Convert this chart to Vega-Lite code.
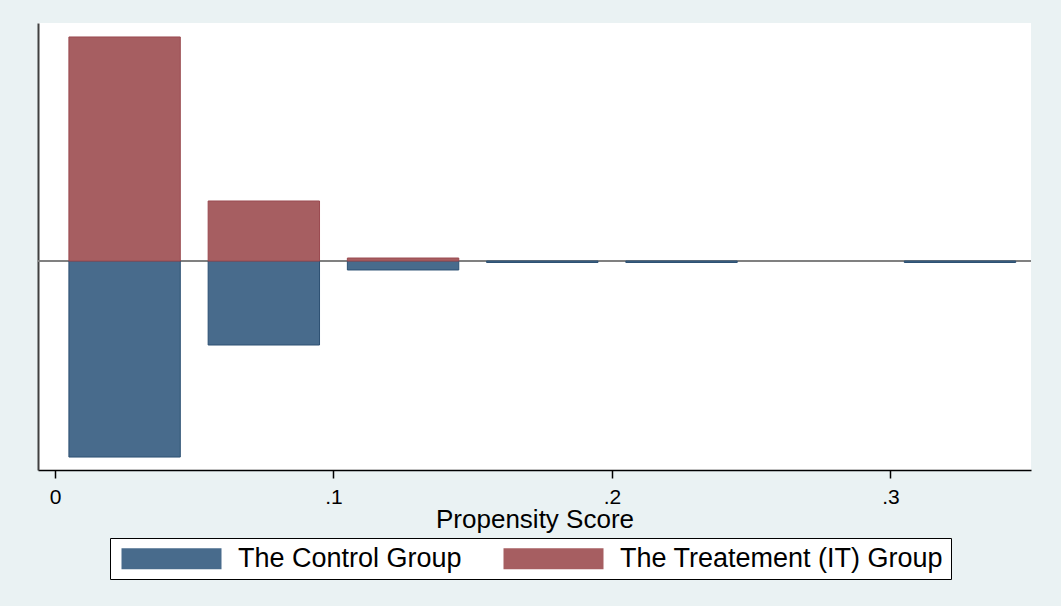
{
  "$schema": "https://vega.github.io/schema/vega-lite/v6.json",
  "width": 993,
  "height": 447,
  "autosize": {"type": "none"},
  "padding": {"left": 38, "top": 23, "right": 30, "bottom": 136},
  "background": "#EAF2F3",
  "config": {
    "view": {"fill": "white", "stroke": null},
    "font": "Liberation Sans"
  },
  "data": {
    "values": [
      {"group": "The Control Group", "lo": 0.005, "hi": 0.045, "density": -13.61},
      {"group": "The Control Group", "lo": 0.055, "hi": 0.095, "density": -5.83},
      {"group": "The Control Group", "lo": 0.105, "hi": 0.145, "density": -0.62},
      {"group": "The Control Group", "lo": 0.155, "hi": 0.195, "density": -0.1},
      {"group": "The Control Group", "lo": 0.205, "hi": 0.245, "density": -0.1},
      {"group": "The Control Group", "lo": 0.305, "hi": 0.345, "density": -0.1},
      {"group": "The Treatement (IT) Group", "lo": 0.005, "hi": 0.045, "density": 15.56},
      {"group": "The Treatement (IT) Group", "lo": 0.055, "hi": 0.095, "density": 4.17},
      {"group": "The Treatement (IT) Group", "lo": 0.105, "hi": 0.145, "density": 0.21}
    ]
  },
  "layer": [
    {
      "mark": {"type": "rule", "color": "#808080", "strokeWidth": 2},
      "encoding": {
        "y": {"datum": 0, "type": "quantitative", "title": null}
      }
    },
    {
      "mark": {"type": "bar", "strokeWidth": 1},
      "encoding": {
        "x": {
          "field": "lo", "type": "quantitative",
          "scale": {"domain": [-0.0061, 0.3505], "nice": false, "zero": false},
          "axis": {
            "values": [0, 0.1, 0.2, 0.3],
            "labelExpr": "datum.value == 0 ? '0' : replace(format(datum.value, '.1f'), '0.', '.')",
            "grid": false,
            "domainColor": "black", "domainWidth": 1.5,
            "tickColor": "black", "tickWidth": 1.5, "tickSize": 8,
            "labelFontSize": 21, "labelColor": "black", "labelPadding": 8, "labelFont": "Liberation Sans",
            "title": "Propensity Score", "titleFontSize": 26, "titleFontWeight": "normal",
            "titleColor": "black", "titlePadding": -1, "titleFont": "Liberation Sans"
          }
        },
        "x2": {"field": "hi"},
        "y": {
          "field": "density", "type": "quantitative",
          "scale": {"domain": [-14.51, 16.53], "nice": false},
          "axis": {
            "title": null, "labels": false, "ticks": false, "grid": false,
            "domainColor": "#404040", "domainWidth": 2
          }
        },
        "y2": {"datum": 0},
        "color": {
          "field": "group", "type": "nominal",
          "scale": {
            "domain": ["The Control Group", "The Treatement (IT) Group"],
            "range": ["#486B8C", "#A65E61"]
          },
          "legend": {
            "title": null, "orient": "none", "legendX": 72, "legendY": 515,
            "direction": "horizontal",
            "symbolType": "M-5,-1.05H5V1.05H-5Z", "symbolSize": 400,
            "symbolOffset": 41, "labelOffset": 53, "columnPadding": 37,
            "padding": 7, "fillColor": "white", "strokeColor": "black",
            "labelFontSize": 27, "labelFont": "Liberation Sans", "labelColor": "black",
            "labelLimit": 500,
            "symbolOpacity": 1, "symbolStrokeWidth": 0, "cornerRadius": 0
          }
        },
        "stroke": {
          "field": "group", "type": "nominal",
          "scale": {
            "domain": ["The Control Group", "The Treatement (IT) Group"],
            "range": ["#2C5072", "#9A4A50"]
          },
          "legend": null
        }
      }
    }
  ]
}
